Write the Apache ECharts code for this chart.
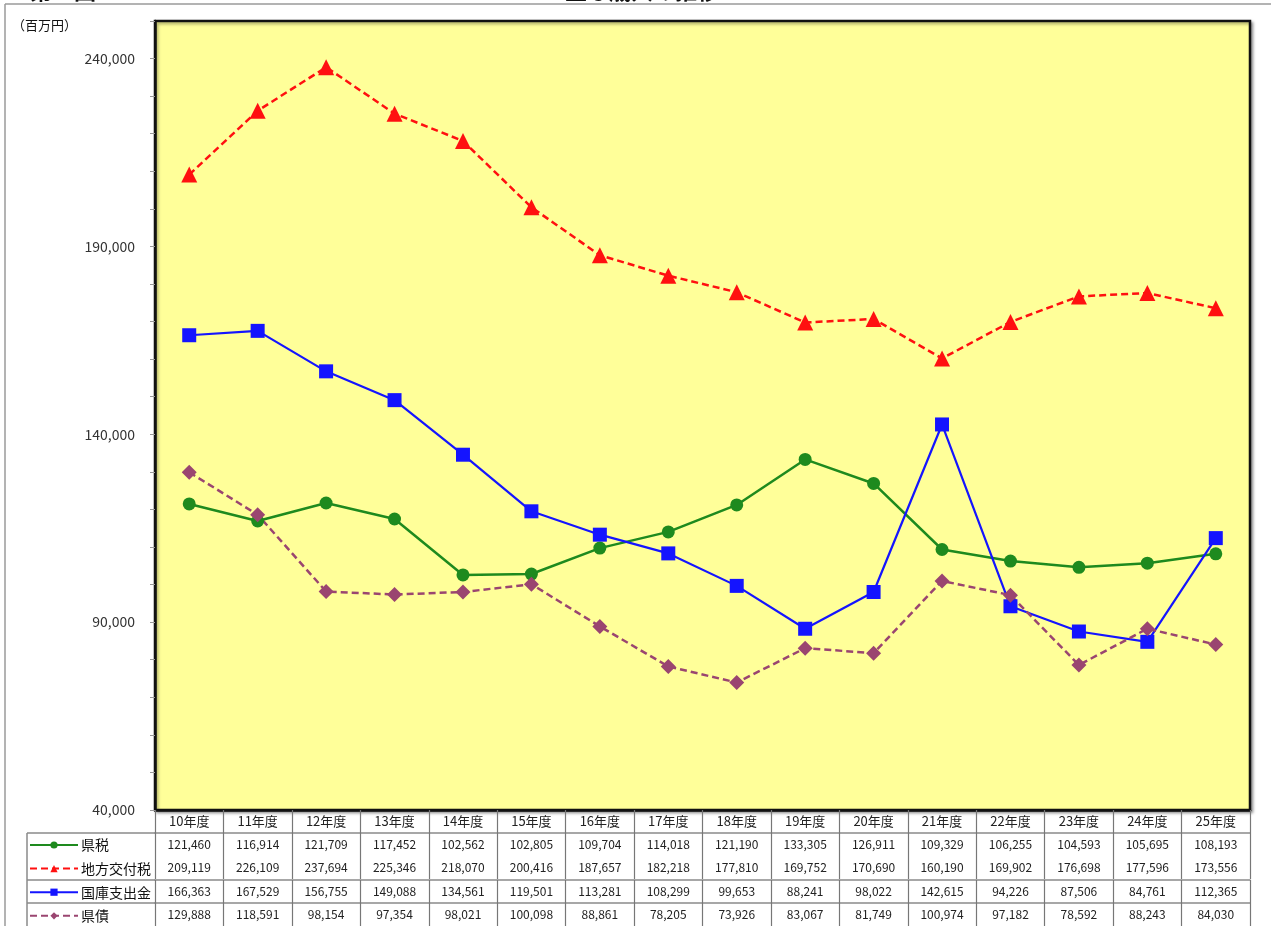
<!DOCTYPE html>
<html>
<head>
<meta charset="utf-8">
<script src="https://cdn.jsdelivr.net/npm/echarts@6/dist/echarts.min.js"></script>
<style>
  html, body { margin: 0; padding: 0; background: #ffffff; }
  #chart { width: 1271px; height: 926px; }
</style>
</head>
<body>
<div id="chart"></div>
<script>
// Fiscal years (平成) shown along the bottom and in the data table
const categories = ['10年度','11年度','12年度','13年度','14年度','15年度','16年度','17年度',
                    '18年度','19年度','20年度','21年度','22年度','23年度','24年度','25年度'];

// Revenue by source, 百万円
const kenzei      = [121460,116914,121709,117452,102562,102805,109704,114018,121190,133305,126911,109329,106255,104593,105695,108193];
const chihoKofu   = [209119,226109,237694,225346,218070,200416,187657,182218,177810,169752,170690,160190,169902,176698,177596,173556];
const kokkoShishutsu = [166363,167529,156755,149088,134561,119501,113281,108299,99653,88241,98022,142615,94226,87506,84761,112365];
const kensai      = [129888,118591,98154,97354,98021,100098,88861,78205,73926,83067,81749,100974,97182,78592,88243,84030];

// Value axis range and labelled ticks
const yMin = 40000, yMax = 250000, yStep = 10000, yLabelStep = 50000, yLabelTop = 240000;

const seriesNames = ['県税','地方交付税','国庫支出金','県債'];
const seriesData = [kenzei, chihoKofu, kokkoShishutsu, kensai];

const FONT = '"Noto Sans CJK JP", "Noto Sans", sans-serif';
const fmt = v => v.toLocaleString('en-US');

const chart = echarts.init(document.getElementById('chart'), null, { renderer: 'canvas' });

// Data table rows are drawn as extra category axes stacked under the plot
const rowOffsets = [23, 46, 70, 93];
const rowLineVisible = [true, false, true, true];
const tableAxes = seriesData.map((arr, k) => ({
  type: 'category',
  data: categories,
  position: 'bottom',
  offset: rowOffsets[k],
  axisLine: { show: rowLineVisible[k], lineStyle: { color: '#8a8a8a', width: 1.5 } },
  axisTick: { show: true, length: 23, lineStyle: { color: '#777', width: 1.2 } },
  axisLabel: {
    show: true,
    margin: 5,
    fontSize: 12,
    color: '#222',
    fontFamily: FONT,
    formatter: (val, idx) => fmt(arr[idx])
  },
  splitLine: { show: false }
}));

const option = {
  animation: false,
  backgroundColor: '#ffffff',
  textStyle: { fontFamily: FONT },
  grid: {
    left: 155, right: 21, top: 21, bottom: 116,
    show: true,
    backgroundColor: '#ffff99',
    borderColor: '#111',
    borderWidth: 2.5,
    shadowColor: 'rgba(0,0,0,0.35)',
    shadowBlur: 3,
    shadowOffsetX: 2,
    shadowOffsetY: 2
  },
  legend: {
    orient: 'vertical',
    left: 29,
    top: 838,
    padding: 0,
    itemWidth: 48,
    itemHeight: 9,
    itemGap: 9.6,
    data: seriesNames,
    textStyle: { fontSize: 14, color: '#111', fontFamily: FONT, lineHeight: 14, padding: [0, 0, 0, -2] }
  },
  xAxis: [{
    type: 'category',
    data: categories,
    position: 'bottom',
    axisLine: { show: true, lineStyle: { color: '#111', width: 2.5 } },
    axisTick: { show: true, length: 23, lineStyle: { color: '#777', width: 1.2 } },
    axisLabel: { margin: 5, fontSize: 13, color: '#222', fontFamily: FONT },
    splitLine: { show: false }
  }].concat(tableAxes),
  yAxis: {
    type: 'value',
    min: yMin,
    max: yMax,
    interval: yStep,
    axisLine: { show: true, lineStyle: { color: '#111', width: 2.5 } },
    axisTick: { show: true, length: 5, lineStyle: { color: '#999' } },
    axisLabel: {
      margin: 20,
      fontSize: 14,
      color: '#333',
      fontFamily: FONT,
      formatter: v => ((v - yMin) % yLabelStep === 0 && v <= yLabelTop ? fmt(v) : '')
    },
    splitLine: { show: false }
  },
  series: [
    {
      name: seriesNames[0], type: 'line', data: kenzei,
      symbol: 'circle', symbolSize: 13,
      itemStyle: { color: '#1e8a1e' },
      lineStyle: { color: '#1e8a1e', width: 2.5 }
    },
    {
      name: seriesNames[1], type: 'line', data: chihoKofu,
      symbol: 'triangle', symbolSize: 16,
      itemStyle: { color: '#ff1010' },
      lineStyle: { color: '#ff1010', width: 2.5, type: [7, 4] }
    },
    {
      name: seriesNames[2], type: 'line', data: kokkoShishutsu,
      symbol: 'rect', symbolSize: 14,
      itemStyle: { color: '#1414ff' },
      lineStyle: { color: '#1414ff', width: 2.2 }
    },
    {
      name: seriesNames[3], type: 'line', data: kensai,
      symbol: 'diamond', symbolSize: 15,
      itemStyle: { color: '#9a4570' },
      lineStyle: { color: '#9a4570', width: 2.5, type: [7, 4] }
    }
  ],
  graphic: [
    // outer frame
    { type: 'line', shape: { x1: 5, y1: 4, x2: 1271, y2: 4 }, style: { stroke: '#9a9a9a', lineWidth: 1.5 } },
    { type: 'line', shape: { x1: 5, y1: 4, x2: 5, y2: 926 }, style: { stroke: '#9a9a9a', lineWidth: 1.5 } },
    // heading, clipped by the page edge
    { type: 'text', left: 30, top: -20, style: { text: '第１図', font: 'bold 22px ' + FONT, fill: '#111' } },
    { type: 'text', left: 565, top: -20, style: { text: '主な歳入の推移', font: 'bold 22px ' + FONT, fill: '#111' } },
    // unit
    { type: 'text', left: 12, top: 19, style: { text: '（百万円）', font: '13px ' + FONT, fill: '#111' } },
    // table lines in the legend column
    { type: 'line', shape: { x1: 27, y1: 833, x2: 155, y2: 833 }, style: { stroke: '#8a8a8a', lineWidth: 1.5 } },
    { type: 'line', shape: { x1: 27, y1: 880, x2: 155, y2: 880 }, style: { stroke: '#8a8a8a', lineWidth: 1.5 } },
    { type: 'line', shape: { x1: 27, y1: 903, x2: 155, y2: 903 }, style: { stroke: '#8a8a8a', lineWidth: 1.5 } },
    { type: 'line', shape: { x1: 27, y1: 833, x2: 27, y2: 926 }, style: { stroke: '#8a8a8a', lineWidth: 1.5 } }
  ]
};

chart.setOption(option);
</script>
</body>
</html>
